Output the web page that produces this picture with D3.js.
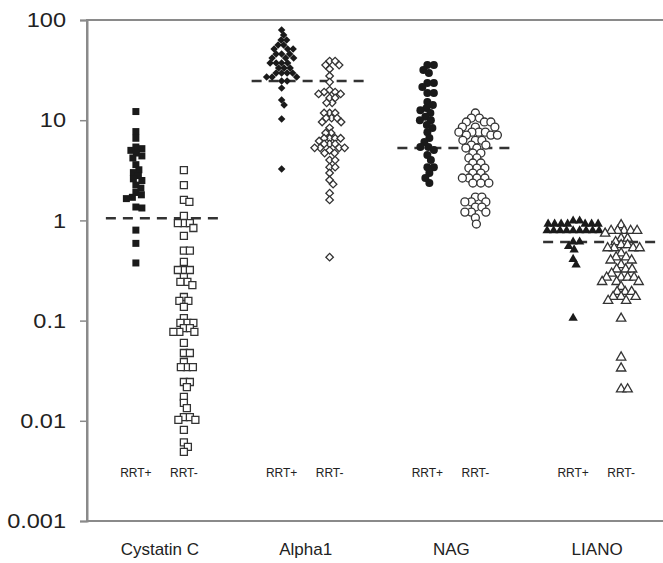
<!DOCTYPE html>
<html>
<head>
<meta charset="utf-8">
<script src="https://cdn.jsdelivr.net/npm/d3@7"></script>
<style>
  body { margin: 0; background: #fff; }
  svg text { font-family: "Liberation Sans", Arial, sans-serif; fill: #222; }
</style>
</head>
<body>
<div id="chart"></div>
<script>
// categories and groups
const categories = ["Cystatin C", "Alpha1", "NAG", "LIANO"];
const groups = ["RRT+", "RRT-"];
const yTicks = [0.001, 0.01, 0.1, 1, 10, 100];
// dashed cut-off line per category
const cutoffs = [1.05, 24.6, 5.28, 0.61];

// values
const cystatinPos = [12.2, 7.7, 6.6, 5.4, 5.2, 5.0, 4.7, 4.4, 4.2, 3.6, 3.2, 3.0, 2.8, 2.6, 2.5, 2.25, 2.1, 1.9, 1.8, 1.7, 1.65, 1.36, 1.33, 0.80, 0.59, 0.376];
const cystatinNeg = [3.18, 2.25, 1.60, 1.53, 1.11, 0.94, 0.94, 0.94, 0.84, 0.70, 0.50, 0.50, 0.385, 0.32, 0.32, 0.32, 0.272, 0.243, 0.243, 0.226, 0.172, 0.157, 0.157, 0.137, 0.106, 0.095, 0.095, 0.095, 0.084, 0.084, 0.077, 0.077, 0.077, 0.060, 0.0475, 0.0475, 0.0386, 0.0344, 0.0344, 0.0344, 0.0244, 0.0244, 0.0217, 0.0173, 0.0151, 0.0134, 0.0109, 0.0109, 0.0102, 0.0102, 0.0081, 0.0061, 0.0055, 0.0049];
const alphaPos = [79.5, 70.8, 63.1, 63.1, 56.3, 56.3, 51.4, 51.4, 51.4, 45.8, 45.8, 45.8, 41.8, 41.8, 41.8, 37.2, 37.2, 37.2, 37.2, 33.2, 33.2, 33.2, 29.6, 29.6, 29.6, 29.6, 27.0, 27.0, 27.0, 24.6, 24.6, 20.9, 15.9, 14.2, 10.3, 3.26];
const alphaNeg = [38.9, 38.9, 35.5, 35.5, 32.4, 27.6, 24.0, 20.0, 19.1, 19.1, 18.3, 18.3, 16.7, 16.7, 14.9, 14.9, 11.8, 11.8, 11.8, 10.5, 10.5, 10.5, 9.6, 9.6, 8.4, 7.45, 7.45, 6.6, 6.6, 6.6, 6.6, 6.2, 5.8, 5.8, 5.8, 5.3, 5.3, 5.3, 5.3, 5.0, 4.7, 4.7, 4.0, 4.0, 3.4, 3.4, 2.97, 2.53, 2.3, 1.87, 1.6, 0.43];
const nagPos = [35.5, 35.5, 31.7, 29.6, 23.5, 23.5, 21.4, 18.7, 18.7, 15.2, 14.2, 13.2, 12.6, 11.8, 10.8, 10.0, 10.0, 8.95, 8.36, 7.6, 6.64, 6.05, 5.4, 5.4, 5.04, 4.5, 4.0, 3.4, 3.4, 2.97, 2.65, 2.36];
const nagNeg = [11.8, 10.5, 10.5, 9.6, 9.6, 9.6, 8.55, 8.55, 8.55, 7.6, 7.6, 7.6, 7.6, 7.1, 7.1, 7.1, 6.3, 6.3, 6.3, 5.65, 5.65, 5.28, 5.28, 4.7, 4.7, 4.2, 4.2, 3.74, 3.74, 3.33, 3.33, 3.33, 2.97, 2.97, 2.65, 2.65, 2.65, 2.65, 2.36, 2.36, 2.36, 1.71, 1.71, 1.53, 1.53, 1.53, 1.36, 1.36, 1.21, 1.21, 1.21, 1.06, 0.92];
const lianoPos = [0.99, 0.99, 0.92, 0.92, 0.92, 0.92, 0.92, 0.92, 0.92, 0.79, 0.79, 0.79, 0.79, 0.79, 0.79, 0.79, 0.79, 0.79, 0.75, 0.61, 0.61, 0.55, 0.51, 0.41, 0.36, 0.106];
const lianoNeg = [0.90, 0.79, 0.79, 0.79, 0.79, 0.79, 0.74, 0.66, 0.66, 0.61, 0.57, 0.57, 0.53, 0.53, 0.53, 0.53, 0.47, 0.43, 0.43, 0.40, 0.40, 0.36, 0.325, 0.325, 0.325, 0.296, 0.27, 0.27, 0.27, 0.27, 0.244, 0.244, 0.244, 0.218, 0.194, 0.194, 0.194, 0.173, 0.173, 0.173, 0.158, 0.158, 0.105, 0.043, 0.0334, 0.0207, 0.0207];

const series = [
  {cat: "Cystatin C", group: "RRT+", values: cystatinPos, shape: "square", filled: true},
  {cat: "Cystatin C", group: "RRT-", values: cystatinNeg, shape: "square", filled: false},
  {cat: "Alpha1", group: "RRT+", values: alphaPos, shape: "diamond", filled: true},
  {cat: "Alpha1", group: "RRT-", values: alphaNeg, shape: "diamond", filled: false},
  {cat: "NAG", group: "RRT+", values: nagPos, shape: "circle", filled: true},
  {cat: "NAG", group: "RRT-", values: nagNeg, shape: "circle", filled: false},
  {cat: "LIANO", group: "RRT+", values: lianoPos, shape: "triangle", filled: true},
  {cat: "LIANO", group: "RRT-", values: lianoNeg, shape: "triangle", filled: false}
];

const width = 663, height = 563;
const svg = d3.select("#chart").append("svg")
  .attr("width", width)
  .attr("height", height);

const x = d3.scaleBand().domain(categories).range([87, 670]);
const sub = d3.scalePoint().domain(groups).range([-24, 24]);
const y = d3.scaleLog().domain([0.001, 100]).range([521, 20]);

// marker look; diam is the spacing used by the swarm (markers may overlap a bit)
const symbols = {
  square: {gen: d3.symbol(d3.symbolSquare, 49), diam: 5.8, rot: 0},
  diamond: {gen: d3.symbol(d3.symbolSquare, 28), diam: 5.4, rot: 45},
  circle: {gen: d3.symbol(d3.symbolCircle, 50), diam: 6.2, rot: 0},
  triangle: {gen: d3.symbol(d3.symbolTriangle, 38), diam: 6.2, rot: 0}
};

// simple beeswarm: keep each point as close to the column centre as possible
function dodge(values, diam) {
  const pts = values.map(v => ({v: v, py: y(v)})).sort((a, b) => a.py - b.py);
  const placed = [];
  pts.forEach(p => {
    for (let k = 0; k < 400; k++) {
      const off = (k % 2 ? 1 : -1) * Math.ceil(k / 2) * 0.5;
      const hit = placed.some(q => {
        const dx = off - q.dx, dy = p.py - q.py;
        return dx * dx + dy * dy < diam * diam;
      });
      if (!hit) { p.dx = off; break; }
    }
    placed.push(p);
  });
  return pts;
}

// frame
svg.append("rect")
  .attr("x", 87).attr("y", 20)
  .attr("width", 583).attr("height", 501)
  .attr("fill", "none")
  .attr("stroke", "#8a8a8a")
  .attr("stroke-width", 2);

// y axis
const yAxis = svg.append("g")
  .attr("transform", "translate(87,0)")
  .call(d3.axisLeft(y).tickValues(yTicks).tickFormat(d => String(d)).tickSize(7).tickPadding(14));
yAxis.select(".domain").attr("stroke", "#8a8a8a").attr("stroke-width", 2);
yAxis.selectAll(".tick line").attr("stroke", "#8a8a8a").attr("stroke-width", 1.5);
yAxis.selectAll(".tick text")
  .attr("font-size", 21)
  .attr("font-family", "Liberation Sans, Arial, sans-serif")
  .attr("fill", "#1a1a1a")
  .each(function () {
    // the reference labels are a little wider than plain Arial
    const w = this.getComputedTextLength();
    d3.select(this).attr("textLength", w * 1.12).attr("lengthAdjust", "spacingAndGlyphs");
  });

// cut-off lines
svg.append("g").selectAll("line")
  .data(categories)
  .join("line")
  .attr("x1", d => x(d) + x.bandwidth() / 2 - 54)
  .attr("x2", d => x(d) + x.bandwidth() / 2 + 62)
  .attr("y1", (d, i) => y(cutoffs[i]))
  .attr("y2", (d, i) => y(cutoffs[i]))
  .attr("stroke", "#333")
  .attr("stroke-width", 2.5)
  .attr("stroke-dasharray", "10,7");

// points
series.forEach(s => {
  const sym = symbols[s.shape];
  const cx = x(s.cat) + x.bandwidth() / 2 + sub(s.group);
  const pts = dodge(s.values, sym.diam);
  svg.append("g").selectAll("path")
    .data(pts)
    .join("path")
    .attr("d", sym.gen)
    .attr("transform", d => `translate(${cx + d.dx},${d.py}) rotate(${sym.rot})`)
    .attr("fill", s.filled ? "#1a1a1a" : "#fff")
    .attr("stroke", s.filled ? "none" : "#333")
    .attr("stroke-width", 1.3);

  svg.append("text")
    .attr("x", cx)
    .attr("y", 477)
    .attr("text-anchor", "middle")
    .attr("font-size", 12)
    .text(s.group);
});

// category labels
svg.append("g").selectAll("text")
  .data(categories)
  .join("text")
  .attr("x", d => x(d) + x.bandwidth() / 2)
  .attr("y", 555)
  .attr("text-anchor", "middle")
  .attr("font-size", 17)
  .text(d => d);
</script>
</body>
</html>
